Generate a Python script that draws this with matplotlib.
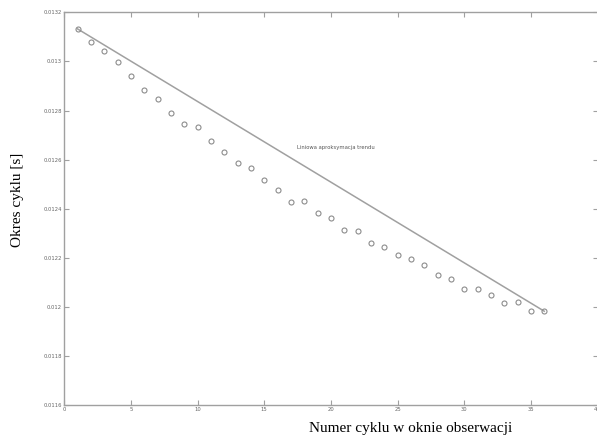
import numpy as np
import matplotlib
matplotlib.use("Agg")
import matplotlib.pyplot as plt

# numer cyklu i okres cyklu
cycle_no = np.arange(1, 37)
period = [0.013133, 0.013081, 0.013044, 0.012996, 0.012941, 0.012885,
          0.012848, 0.012790, 0.012744, 0.012733, 0.012676, 0.012633,
          0.012587, 0.012567, 0.012516, 0.012477, 0.012429, 0.012432,
          0.012384, 0.012362, 0.012312, 0.012308, 0.012260, 0.012244,
          0.012213, 0.012193, 0.012172, 0.012131, 0.012115, 0.012071,
          0.012071, 0.012048, 0.012017, 0.012018, 0.011983, 0.011982]

x_ticks = [0, 5, 10, 15, 20, 25, 30, 35, 40]
y_ticks = [0.0116, 0.0118, 0.012, 0.0122, 0.0124, 0.0126, 0.0128, 0.013, 0.0132]
y_tick_labels = ['0.0116', '0.0118', '0.012', '0.0122', '0.0124',
                 '0.0126', '0.0128', '0.013', '0.0132']

gray = '#a0a0a0'

fig = plt.figure(figsize=(5.97, 4.44), dpi=100)
ax = fig.add_axes([0.1075, 0.088, 0.8935, 0.884])

# linia trendu od pierwszego do ostatniego punktu
ax.plot([cycle_no[0], cycle_no[-1]], [period[0], period[-1]], color=gray, lw=1.1)
ax.plot(cycle_no, period, 'o', mfc='none', mec='#8c8c8c', ms=3.6, mew=0.8)

ax.text(17.45, 0.012651, 'Liniowa aproksymacja trendu', fontsize=3.8,
        color='#555555', va='center', ha='left')

ax.set_xlim(0, 40)
ax.set_ylim(0.0116, 0.0132)
ax.set_xticks(x_ticks)
ax.set_yticks(y_ticks)
ax.set_yticklabels(y_tick_labels)
ax.tick_params(direction='in', length=3.6, width=0.8, color=gray,
               labelsize=3.8, labelcolor='#666666', pad=1.5,
               top=True, right=True)
for s in ax.spines.values():
    s.set_color(gray)
    s.set_linewidth(1.0)

fig.text(0.687, 0.036, 'Numer cyklu w oknie obserwacji', family='Liberation Serif',
         fontsize=11, ha='center', va='center')
fig.text(0.029, 0.55, 'Okres cyklu [s]', family='Liberation Serif',
         fontsize=11, ha='center', va='center', rotation=90)

fig.savefig('out.png', dpi=100)
